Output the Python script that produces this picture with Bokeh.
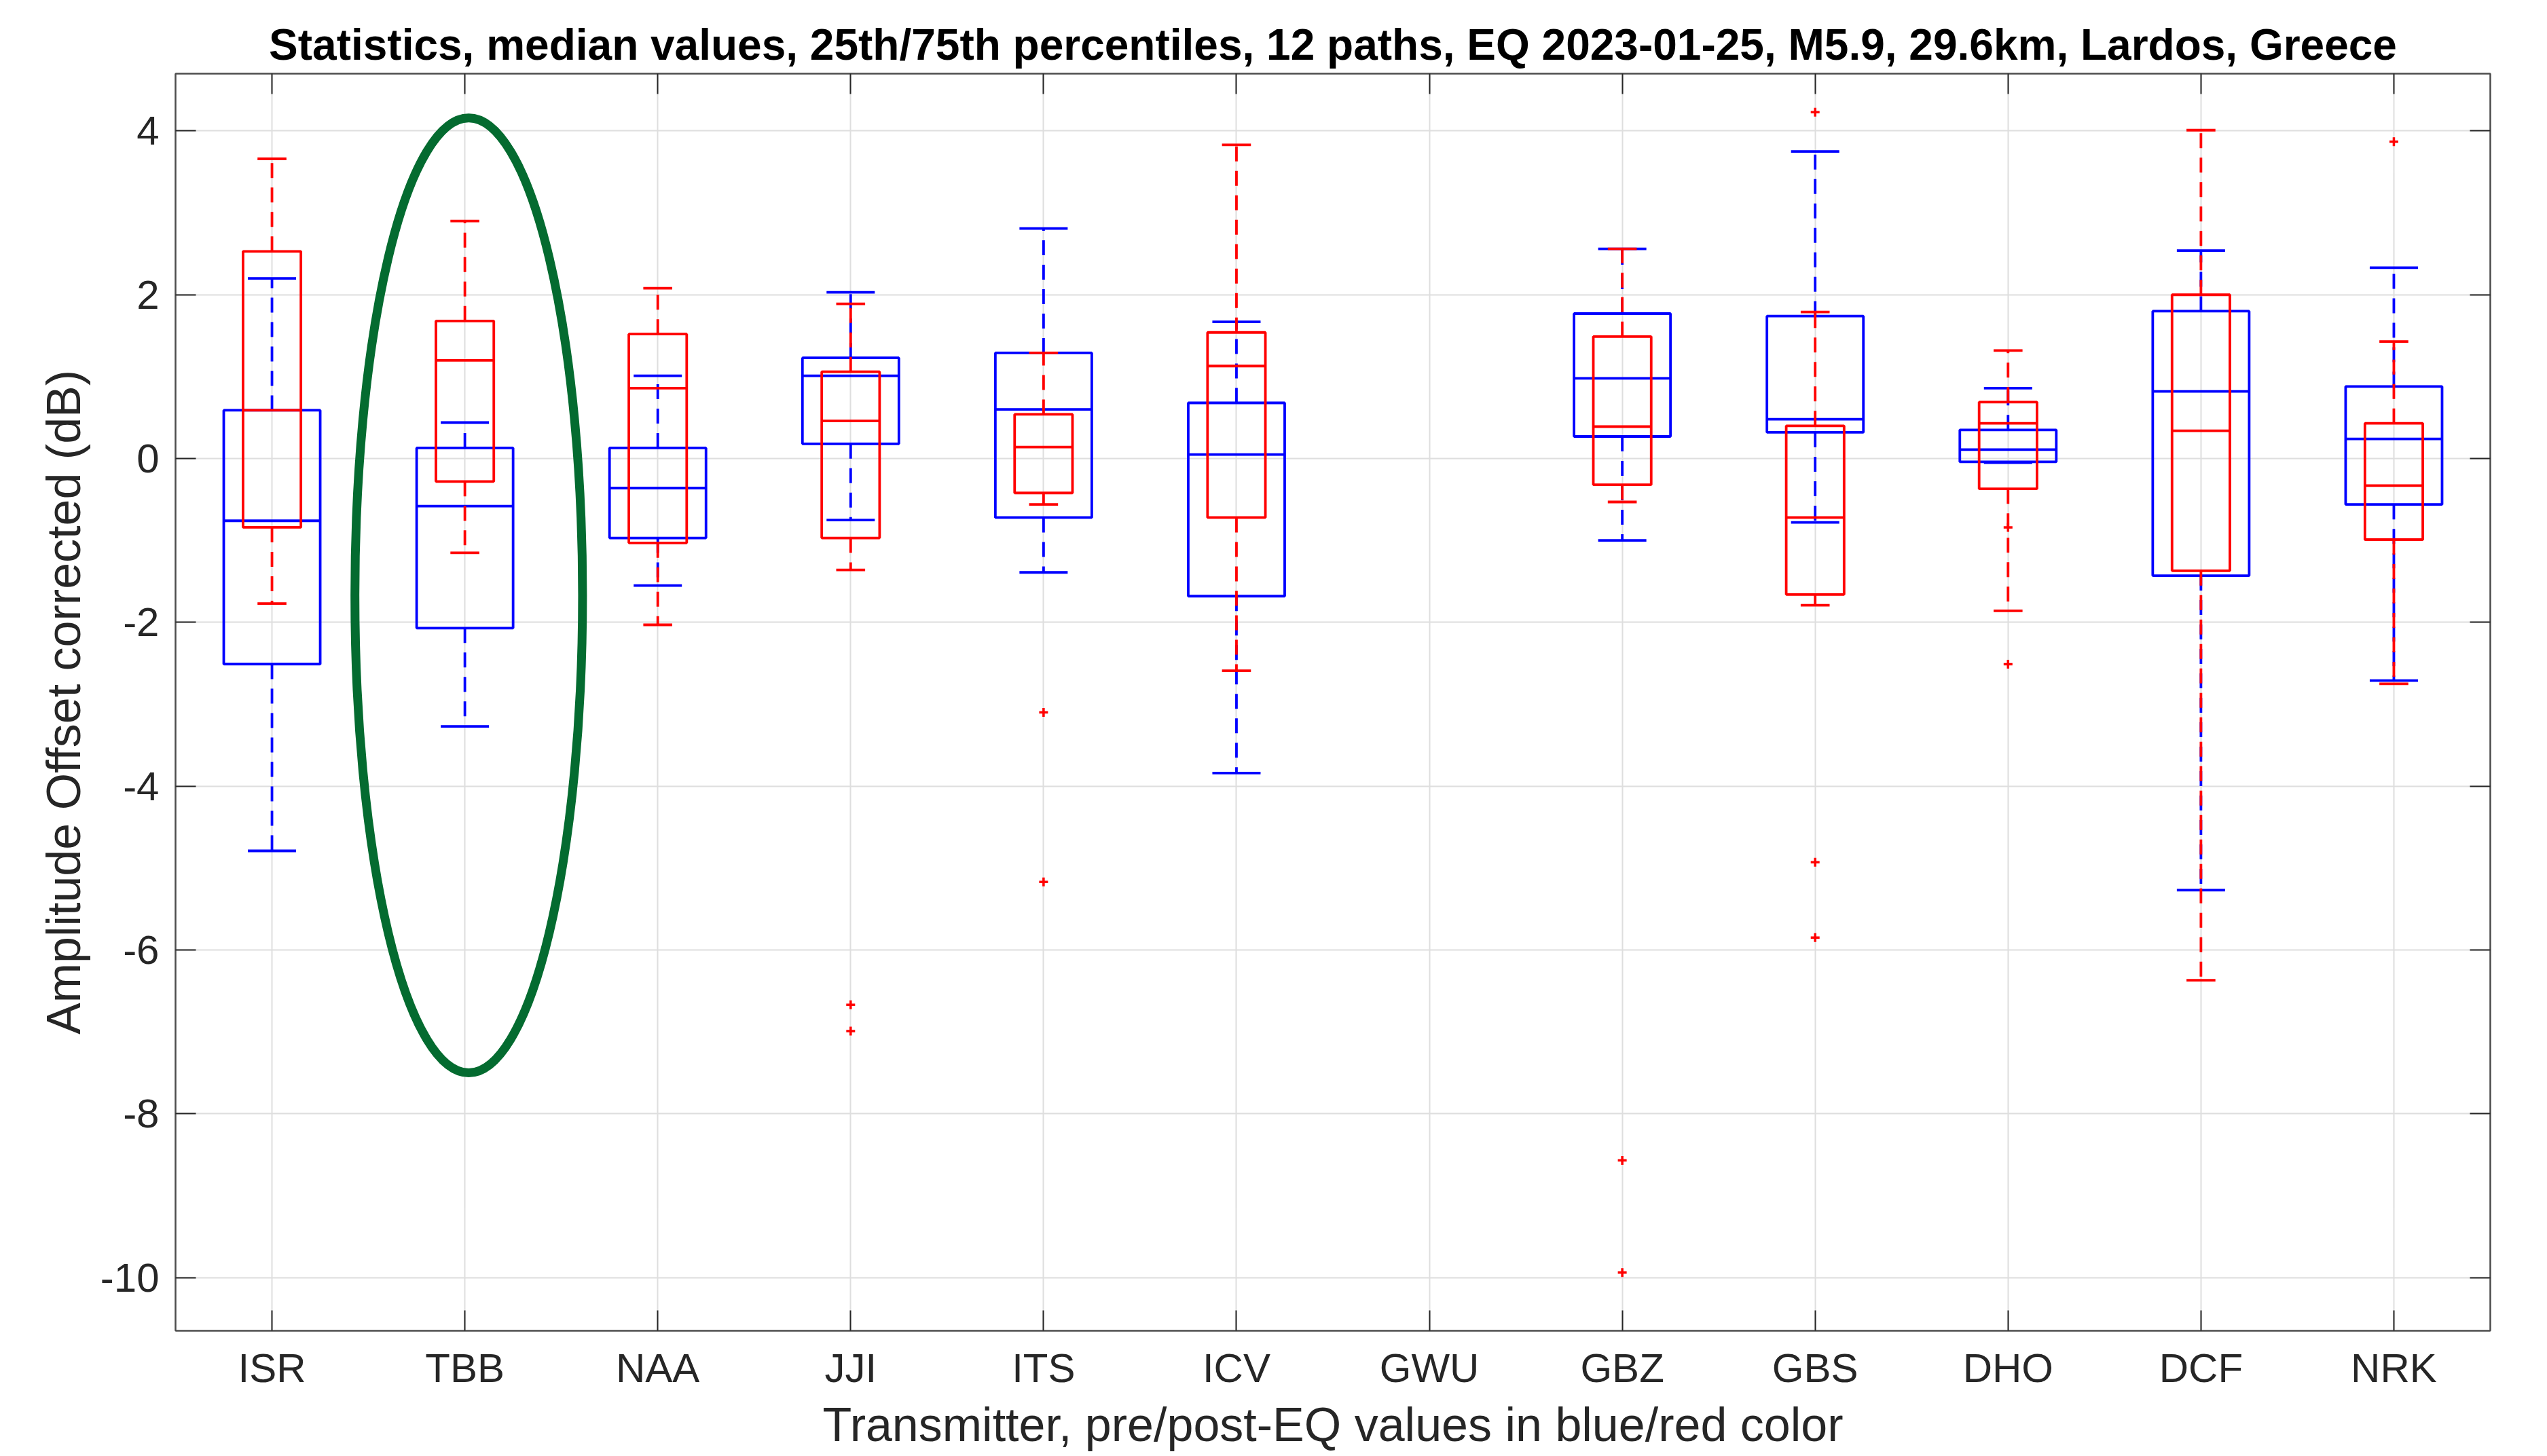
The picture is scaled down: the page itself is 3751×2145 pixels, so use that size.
import numpy as np
from bokeh.plotting import figure
from bokeh.models import FixedTicker, LinearAxis, Range1d, ColumnDataSource
from bokeh.embed import file_html
from bokeh.resources import INLINE

# ---------------- data ----------------
names = ["ISR", "TBB", "NAA", "JJI", "ITS", "ICV", "GWU", "GBZ", "GBS", "DHO", "DCF", "NRK"]
nan = float("nan")

# pre-EQ (blue)
pre_lo  = [-4.79, -3.27, -1.55, -0.75, -1.39, -3.84, nan, -1.00, -0.78, -0.05, -5.27, -2.71]
pre_q1  = [-2.51, -2.07, -0.97,  0.18, -0.72, -1.68, nan,  0.27,  0.32, -0.04, -1.43, -0.56]
pre_med = [-0.76, -0.58, -0.36,  1.01,  0.60,  0.05, nan,  0.98,  0.48,  0.11,  0.82,  0.24]
pre_q3  = [ 0.59,  0.13,  0.13,  1.23,  1.29,  0.68, nan,  1.77,  1.74,  0.35,  1.80,  0.88]
pre_hi  = [ 2.20,  0.44,  1.01,  2.03,  2.81,  1.67, nan,  2.56,  3.75,  0.86,  2.54,  2.33]

# post-EQ (red)
post_lo  = [-1.77, -1.15, -2.03, -1.36, -0.56, -2.59, nan, -0.53, -1.79, -1.86, -6.37, -2.75]
post_q1  = [-0.84, -0.28, -1.03, -0.97, -0.42, -0.72, nan, -0.32, -1.66, -0.37, -1.37, -0.99]
post_med = [ 0.59,  1.20,  0.86,  0.46,  0.14,  1.13, nan,  0.39, -0.72,  0.43,  0.34, -0.33]
post_q3  = [ 2.53,  1.68,  1.52,  1.06,  0.54,  1.54, nan,  1.49,  0.40,  0.69,  2.00,  0.43]
post_hi  = [ 3.66,  2.90,  2.08,  1.89,  1.29,  3.83, nan,  2.56,  1.79,  1.32,  4.01,  1.43]

post_out_cat = ["JJI", "JJI", "ITS", "ITS", "GBZ", "GBZ", "GBS", "GBS", "GBS", "DHO", "DHO", "NRK"]
post_out_val = [-6.67, -6.99, -3.10, -5.17, -8.57, -9.94, 4.23, -4.93, -5.85, -0.84, -2.51, 3.87]

y_ticks = [-10, -8, -6, -4, -2, 0, 2, 4]

# highlight ellipse (annotation around TBB)
ell_cat = "TBB"
ell_top, ell_bottom, ell_width, ell_shift = 4.16, -7.50, 1.18, 0.02

TITLE = "Statistics, median values, 25th/75th percentiles, 12 paths, EQ 2023-01-25, M5.9, 29.6km, Lardos, Greece"
XLABEL = "Transmitter, pre/post-EQ values in blue/red color"
YLABEL = "Amplitude Offset corrected (dB)"

BLUE = "#0000FF"
RED = "#FF0000"
GREEN = "#046B30"
FONT = "Liberation Sans"
AXC = "#262626"
LW = 3.8

# ---------------- figure ----------------
p = figure(width=3745, height=2140,
           x_range=Range1d(0.5, 12.5), y_range=Range1d(-10.65, 4.7),
           output_backend="svg", toolbar_location=None,
           min_border_left=258, min_border_right=78,
           min_border_top=108, min_border_bottom=179)
p.background_fill_color = "white"
p.border_fill_color = "white"
p.outline_line_color = "#4D4D4D"
p.outline_line_width = 2

p.title.text = TITLE
p.title.align = "center"
p.title.text_font = FONT
p.title.text_font_style = "bold"
p.title.text_font_size = "64px"
p.title.text_color = "black"
p.title.standoff = 14

xt = list(range(1, len(names) + 1))
for ax in p.xaxis:
    ax.ticker = FixedTicker(ticks=xt)
    ax.major_label_overrides = {i + 1: n for i, n in enumerate(names)}
    ax.axis_label = XLABEL
for ax in p.yaxis:
    ax.ticker = FixedTicker(ticks=y_ticks)
    ax.major_label_overrides = {v: str(v) for v in y_ticks}
    ax.axis_label = YLABEL
for ax in list(p.xaxis) + list(p.yaxis):
    ax.major_label_text_font = FONT
    ax.major_label_text_font_size = "60px"
    ax.major_label_text_color = AXC
    ax.axis_label_text_font = FONT
    ax.axis_label_text_font_size = "70px"
    ax.axis_label_text_font_style = "normal"
    ax.axis_label_text_color = AXC
    ax.major_tick_in = 30
    ax.major_tick_out = 0
    ax.major_tick_line_color = AXC
    ax.major_tick_line_width = 2
    ax.minor_tick_line_color = None
    ax.axis_line_color = "#4D4D4D"
    ax.axis_line_width = 2
p.xaxis.major_label_standoff = 21
p.xaxis.axis_label_standoff = 8
p.yaxis.major_label_standoff = 24
p.yaxis.axis_label_standoff = 12

# top and right axes (ticks only, labels not drawn)
axis_kw = dict(major_label_text_font_size="10px", major_label_text_color=None,
               major_tick_in=30, major_tick_out=0, minor_tick_line_color=None,
               major_tick_line_color=AXC, major_tick_line_width=2,
               axis_line_color="#4D4D4D", axis_line_width=2, major_label_standoff=0)
top_ax = LinearAxis(ticker=FixedTicker(ticks=xt), **axis_kw)
right_ax = LinearAxis(ticker=FixedTicker(ticks=y_ticks), **axis_kw)
p.add_layout(top_ax, "above")
p.add_layout(right_ax, "right")

for g in (p.xgrid, p.ygrid):
    g.grid_line_color = "#DEDEDE"
    g.grid_line_width = 2
p.xgrid.ticker = FixedTicker(ticks=xt)
p.ygrid.ticker = FixedTicker(ticks=y_ticks)


def draw_boxes(lo, q1, med, q3, hi, color, width):
    x = np.arange(1, len(names) + 1, dtype=float)
    lo, q1, med, q3, hi = (np.array(a, dtype=float) for a in (lo, q1, med, q3, hi))
    m = ~np.isnan(med)
    x, lo, q1, med, q3, hi = x[m], lo[m], q1[m], med[m], q3[m], hi[m]
    src = ColumnDataSource(dict(
        x=x, lo=lo, q1=q1, med=med, q3=q3, hi=hi,
        bl=x - width / 2, br=x + width / 2,
        cl=x - width / 4, cr=x + width / 4,
    ))
    # whiskers (dashed)
    p.segment(x0="x", x1="x", y0="q3", y1="hi", source=src, line_color=color,
              line_width=LW, line_dash="22 14")
    p.segment(x0="x", x1="x", y0="q1", y1="lo", source=src, line_color=color,
              line_width=LW, line_dash="22 14")
    # caps
    p.segment(x0="cl", x1="cr", y0="hi", y1="hi", source=src, line_color=color, line_width=LW)
    p.segment(x0="cl", x1="cr", y0="lo", y1="lo", source=src, line_color=color, line_width=LW)
    # boxes
    p.quad(left="bl", right="br", bottom="q1", top="q3", source=src,
           fill_color=None, line_color=color, line_width=LW)
    # medians
    p.segment(x0="bl", x1="br", y0="med", y1="med", source=src, line_color=color, line_width=LW)


draw_boxes(pre_lo, pre_q1, pre_med, pre_q3, pre_hi, BLUE, 0.5)
draw_boxes(post_lo, post_q1, post_med, post_q3, post_hi, RED, 0.3)

out_x = [names.index(c) + 1 for c in post_out_cat]
p.scatter(x=out_x, y=post_out_val, marker="cross", size=13, line_color=RED, line_width=3.5)

# highlight ellipse
ex = names.index(ell_cat) + 1 + ell_shift
p.ellipse(x=[ex], y=[(ell_top + ell_bottom) / 2], width=ell_width, height=ell_top - ell_bottom,
          fill_color=None, line_color=GREEN, line_width=13)

open("out.html", "w").write(file_html(p, INLINE))
